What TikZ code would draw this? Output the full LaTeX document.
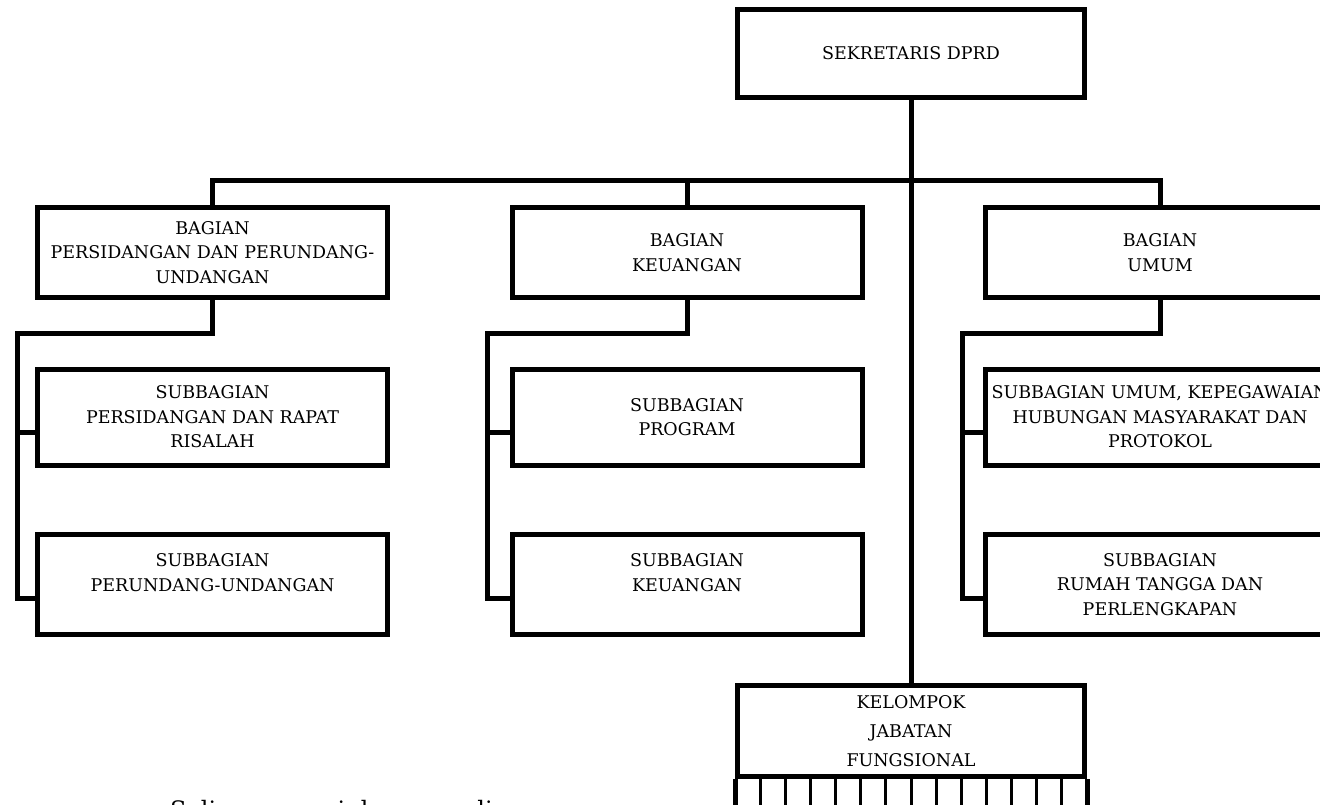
\documentclass[tikz,border=0pt]{standalone}
\usepackage{fontspec}
\setmainfont{DejaVu Serif}
\usetikzlibrary{calc}
\begin{document}
\begin{tikzpicture}[x=1pt,y=-1pt,
  box/.style={draw, line width=5pt, minimum width=350pt, minimum height=90pt, inner sep=0pt, align=center, font=\fontsize{17.5}{24.5}\selectfont},
  sub/.style={box, minimum height=96pt},
  ln/.style={line width=5pt},
  thin/.style={line width=3pt}]
\useasboundingbox (0,0) rectangle (1320,804);
\clip (0,0) rectangle (1320,804);
% top
\node[box, minimum width=347pt, minimum height=88pt] (sek) at (911,53.5) {SEKRETARIS DPRD};
% bagian
\node[box] (b1) at (212.5,252.5) {BAGIAN\\PERSIDANGAN DAN PERUNDANG-\\UNDANGAN};
\node[box] (b2) at (687,252.5) {BAGIAN\\KEUANGAN};
\node[box] (b3) at (1160,252.5) {BAGIAN\\UMUM};
% subbagian
\node[sub] (s11) at (212.5,417) {SUBBAGIAN\\PERSIDANGAN DAN RAPAT\\RISALAH};
\node[sub, minimum height=100pt] (s12) at (212.5,584.5) {SUBBAGIAN\\PERUNDANG-UNDANGAN\\\mbox{}};
\node[sub] (s21) at (687,417) {SUBBAGIAN\\PROGRAM};
\node[sub, minimum height=100pt] (s22) at (687,584.5) {SUBBAGIAN\\KEUANGAN\\\mbox{}};
\node[sub] (s31) at (1160,417) {SUBBAGIAN UMUM, KEPEGAWAIAN\\HUBUNGAN MASYARAKAT DAN\\PROTOKOL};
\node[sub, minimum height=100pt] (s32) at (1160,584.5) {SUBBAGIAN\\RUMAH TANGGA DAN\\PERLENGKAPAN};
% kelompok
\node[box, minimum width=347pt, minimum height=91pt, font=\fontsize{17.5}{29}\selectfont] (kel) at (911,731) {KELOMPOK\\JABATAN\\FUNGSIONAL};
% coordinates
\coordinate (bus) at (0,180);
\coordinate (lA) at (17,333);
\coordinate (lM) at (17,432);
\coordinate (lB) at (17,598);
\coordinate (mA) at (487,333);
\coordinate (mM) at (487,432);
\coordinate (mB) at (487,598);
\coordinate (rA) at (962,333);
\coordinate (rM) at (962,432);
\coordinate (rB) at (962,598);
\coordinate (gb) at (0,820);
% connectors
\draw[ln] (sek.south) -- (kel.north);
\draw[ln] (b1.north) -- (b1.north |- bus) -- (b3.north |- bus) -- (b3.north);
\draw[ln] (b2.north) -- (b2.north |- bus);
\draw[ln] (b1.south) |- (lA) -- (lB) -- (s12.west |- lB);
\draw[ln] (lM) -- (s11.west |- lM);
\draw[ln] (b2.south) |- (mA) -- (mB) -- (s22.west |- mB);
\draw[ln] (mM) -- (s21.west |- mM);
\draw[ln] (b3.south) |- (rA) -- (rB) -- (s32.west |- rB);
\draw[ln] (rM) -- (s31.west |- rM);
% grid under kelompok
\draw[ln] (kel.south west) -- (kel.south west |- gb);
\draw[ln] (kel.south east) -- (kel.south east |- gb);
\foreach \i in {1,...,13} {
  \draw[thin] ($(kel.south west)!\i/14!(kel.south east)$) -- ++(0,45);
}
% footer text
\node[anchor=base west, inner sep=0pt, font=\fontsize{24}{24}\selectfont] (sal) at (170,818) {Salinan sesuai dengan aslinya};
\end{tikzpicture}
\end{document}
